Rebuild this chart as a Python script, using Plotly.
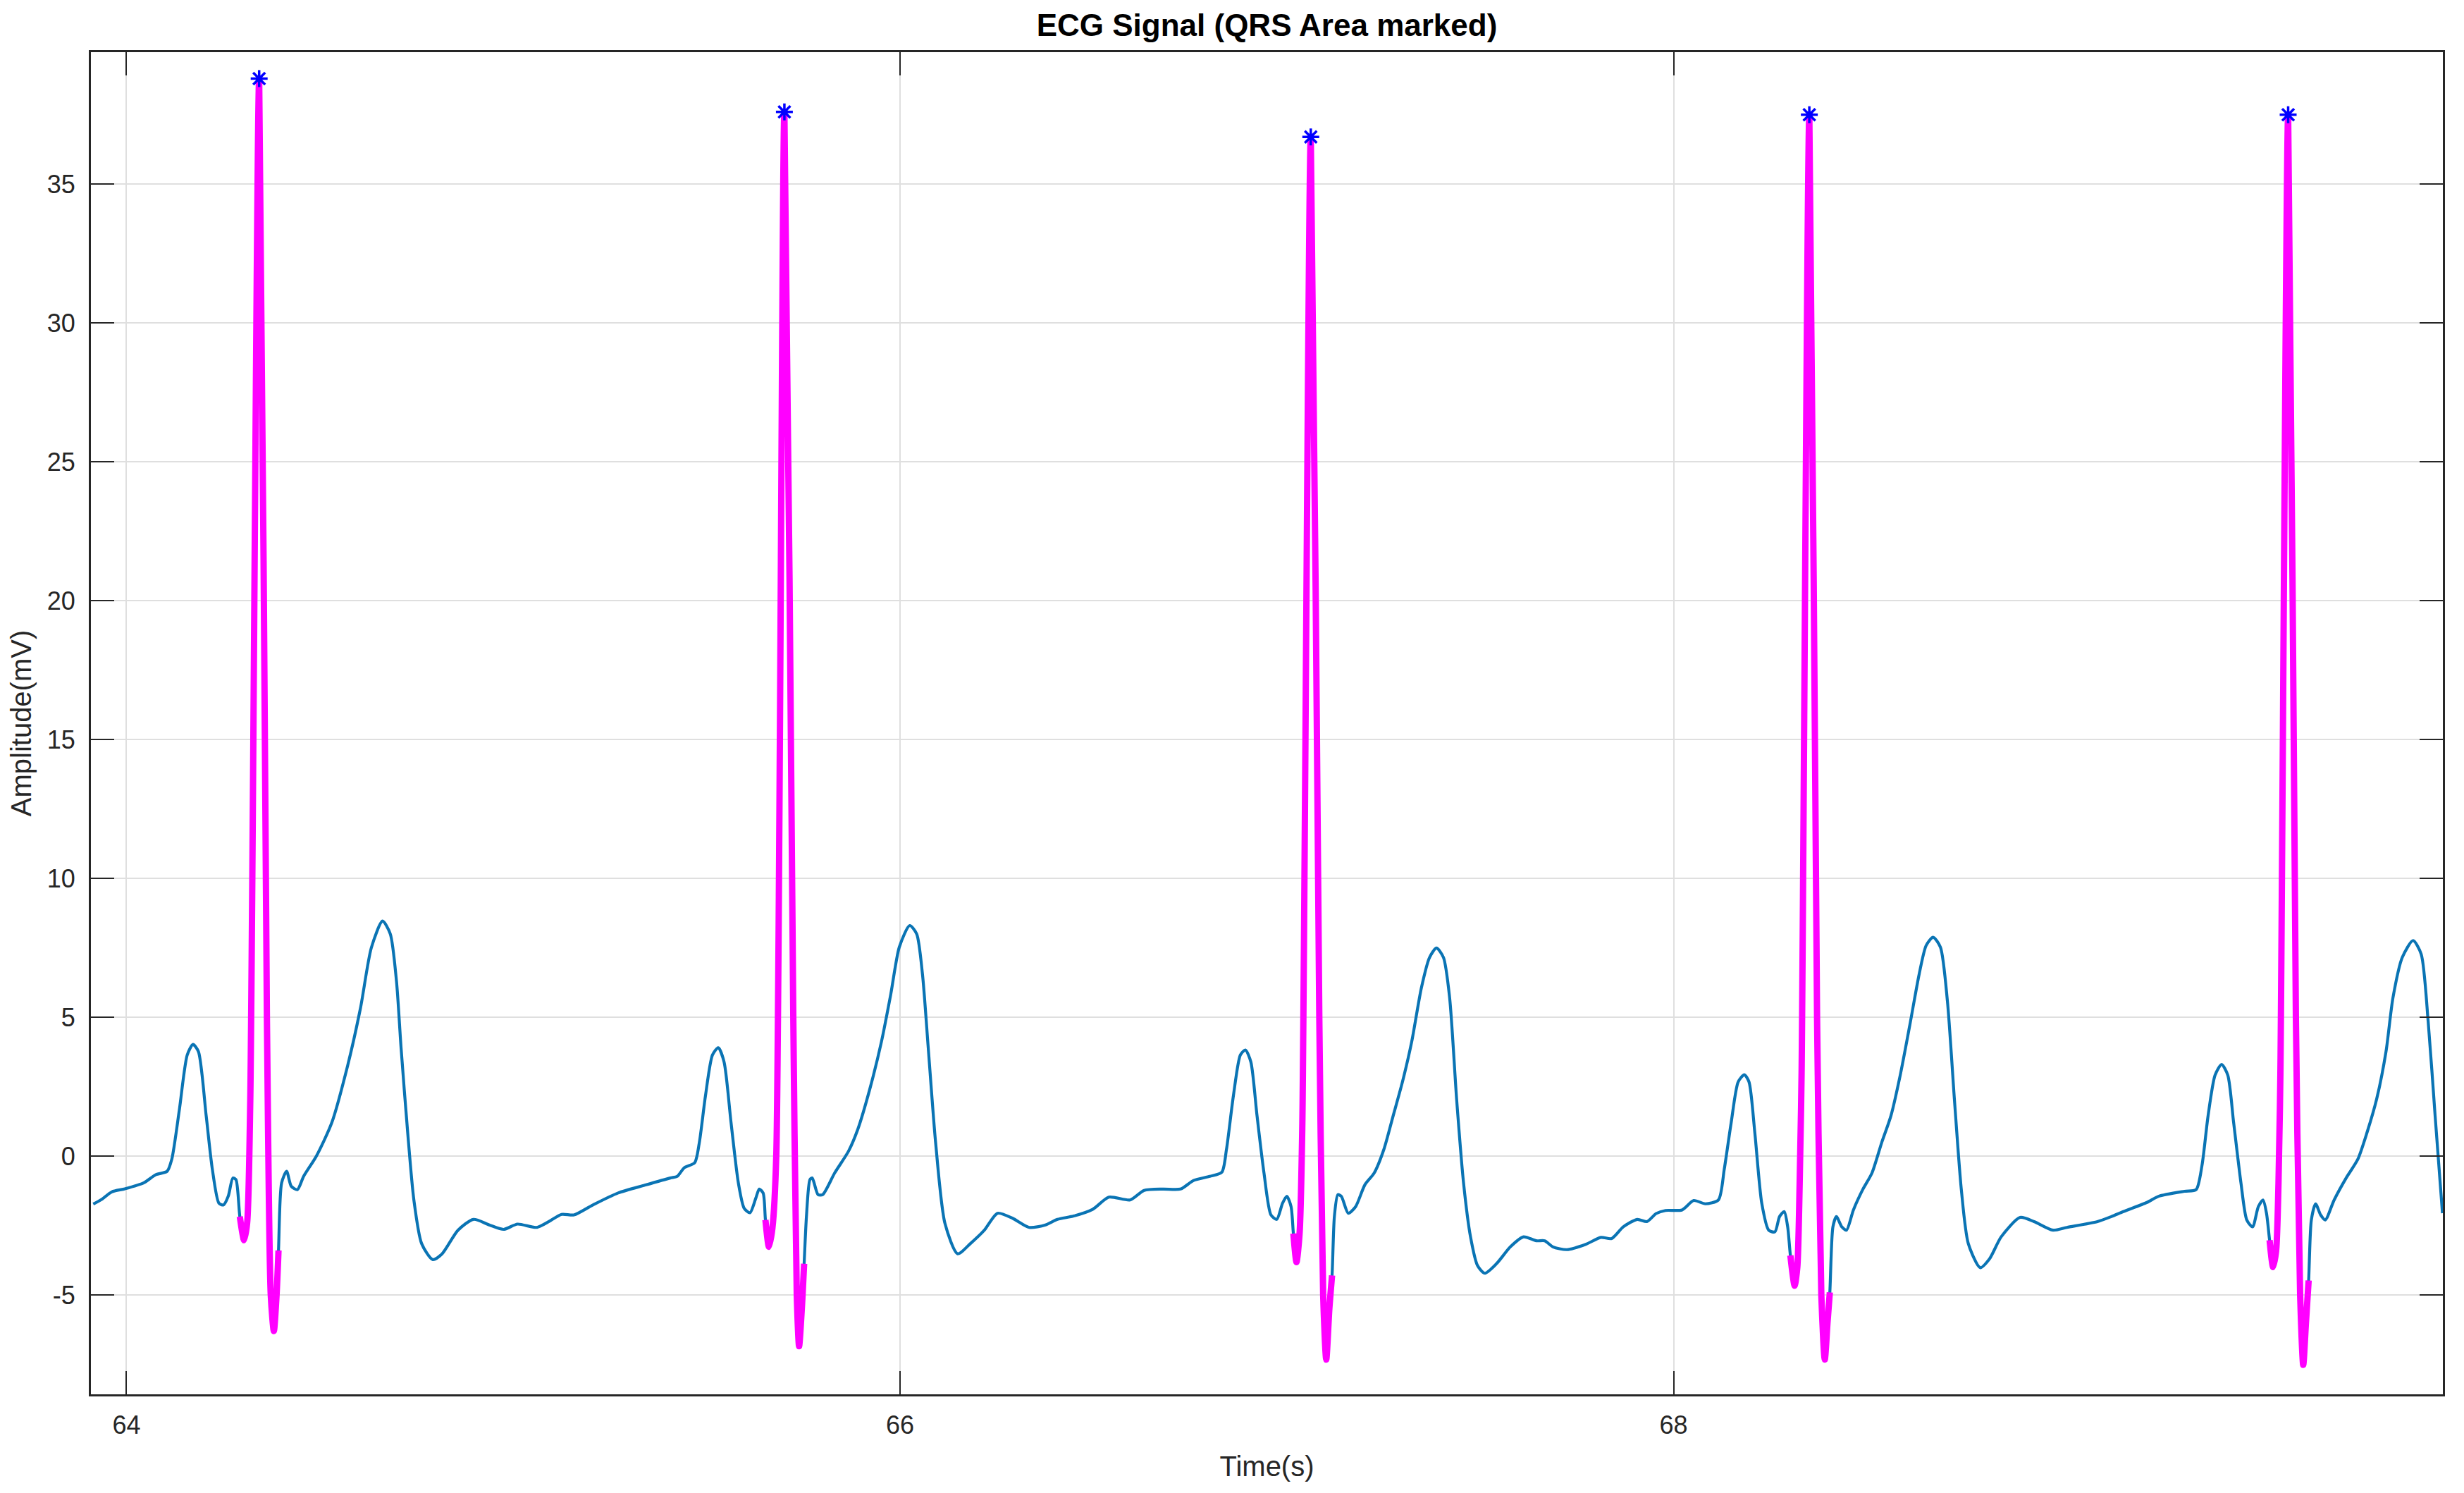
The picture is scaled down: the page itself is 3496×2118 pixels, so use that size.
import plotly.graph_objects as go

# ---- ECG samples (time in s, amplitude in mV) ----
time_s = [
    63.914, 63.935, 63.962, 63.996, 64.044, 64.076, 64.105, 64.117, 64.137, 64.157,
    64.172, 64.186, 64.206, 64.222, 64.239, 64.251, 64.263, 64.275, 64.283, 64.293,
    64.304, 64.312, 64.320, 64.343, 64.363, 64.373, 64.381, 64.388, 64.393, 64.401,
    64.414, 64.426, 64.442, 64.458, 64.491, 64.531, 64.572, 64.605, 64.633, 64.662,
    64.682, 64.698, 64.710, 64.727, 64.743, 64.763, 64.792, 64.816, 64.857, 64.897,
    64.938, 64.975, 65.011, 65.060, 65.092, 65.125, 65.157, 65.206, 65.271, 65.340,
    65.406, 65.424, 65.442, 65.469, 65.481, 65.497, 65.515, 65.530, 65.545, 65.563,
    65.582, 65.597, 65.612, 65.627, 65.636, 65.646, 65.652, 65.661, 65.670, 65.680,
    65.701, 65.724, 65.733, 65.739, 65.746, 65.752, 65.758, 65.767, 65.773, 65.788,
    65.800, 65.831, 65.867, 65.891, 65.922, 65.952, 65.976, 65.998, 66.025, 66.043,
    66.058, 66.073, 66.092, 66.116, 66.149, 66.182, 66.218, 66.252, 66.291, 66.334,
    66.376, 66.407, 66.449, 66.498, 66.540, 66.595, 66.631, 66.680, 66.725, 66.759,
    66.801, 66.832, 66.844, 66.862, 66.880, 66.893, 66.907, 66.923, 66.941, 66.959,
    66.974, 66.989, 67.000, 67.011, 67.017, 67.025, 67.033, 67.040, 67.062, 67.084,
    67.094, 67.102, 67.110, 67.117, 67.123, 67.132, 67.141, 67.159, 67.178, 67.202,
    67.226, 67.251, 67.275, 67.299, 67.323, 67.348, 67.369, 67.387, 67.405, 67.421,
    67.439, 67.457, 67.475, 67.493, 67.512, 67.542, 67.578, 67.612, 67.645, 67.667,
    67.688, 67.724, 67.773, 67.812, 67.840, 67.870, 67.906, 67.931, 67.955, 67.979,
    68.022, 68.052, 68.082, 68.116, 68.131, 68.149, 68.167, 68.183, 68.195, 68.210,
    68.228, 68.246, 68.262, 68.274, 68.286, 68.295, 68.302, 68.313, 68.320, 68.326,
    68.331, 68.351, 68.371, 68.382, 68.391, 68.398, 68.404, 68.412, 68.421, 68.435,
    68.447, 68.465, 68.489, 68.513, 68.538, 68.562, 68.586, 68.611, 68.635, 68.653,
    68.671, 68.690, 68.708, 68.726, 68.744, 68.762, 68.793, 68.817, 68.847, 68.896,
    68.932, 68.981, 69.017, 69.096, 69.132, 69.163, 69.224, 69.254, 69.321, 69.351,
    69.366, 69.382, 69.400, 69.417, 69.433, 69.448, 69.467, 69.482, 69.497, 69.512,
    69.524, 69.533, 69.541, 69.550, 69.558, 69.564, 69.569, 69.589, 69.609, 69.620,
    69.628, 69.635, 69.642, 69.649, 69.660, 69.673, 69.685, 69.708, 69.739, 69.769,
    69.793, 69.818, 69.842, 69.860, 69.884, 69.912, 69.933, 69.951, 69.969, 69.988,
]
amplitude_mv = [
    -1.73, -1.57, -1.29, -1.18, -0.97, -0.67, -0.55, -0.12, 1.70, 3.64,
    4.02, 3.76, 1.45, -0.48, -1.70, -1.76, -1.45, -0.79, -0.85, -2.18,
    -3.03, -2.40, 2.00, 38.80, 5.00, -5.00, -6.30, -5.00, -3.40, -0.97,
    -0.55, -1.09, -1.21, -0.73, 0.00, 1.21, 3.27, 5.33, 7.50, 8.46,
    8.00, 6.30, 3.88, 0.85, -1.58, -3.15, -3.73, -3.52, -2.67, -2.28,
    -2.48, -2.64, -2.45, -2.57, -2.36, -2.10, -2.12, -1.76, -1.33, -1.05,
    -0.79, -0.73, -0.42, -0.24, 0.48, 2.18, 3.64, 3.90, 3.39, 1.21,
    -0.97, -1.88, -2.04, -1.52, -1.19, -1.33, -2.30, -3.27, -2.60, 0.00,
    37.60, 5.00, -5.00, -6.85, -5.50, -3.88, -2.18, -0.85, -0.79, -1.39,
    -1.39, -0.61, 0.18, 0.97, 2.42, 4.12, 5.82, 7.52, 8.30, 8.00,
    6.55, 3.88, 0.48, -2.42, -3.52, -3.15, -2.67, -2.06, -2.24, -2.57,
    -2.48, -2.28, -2.16, -1.92, -1.48, -1.58, -1.24, -1.19, -1.19, -0.88,
    -0.73, -0.58, 0.24, 2.18, 3.64, 3.82, 3.39, 1.45, -0.61, -2.12,
    -2.28, -1.70, -1.45, -1.82, -2.79, -3.82, -2.80, 1.00, 36.70, 5.00,
    -5.00, -7.33, -5.50, -4.30, -2.18, -1.39, -1.45, -2.06, -1.82, -1.03,
    -0.61, 0.24, 1.45, 2.67, 4.12, 6.06, 7.15, 7.49, 7.15, 5.70,
    2.06, -0.97, -2.91, -3.94, -4.22, -3.88, -3.27, -2.91, -3.05, -3.05,
    -3.27, -3.37, -3.18, -2.93, -2.97, -2.55, -2.28, -2.36, -2.07, -1.96,
    -1.94, -1.60, -1.72, -1.58, -0.48, 1.21, 2.67, 2.93, 2.67, 0.85,
    -1.70, -2.67, -2.73, -2.18, -2.00, -2.55, -3.58, -4.67, -4.00, -1.00,
    3.00, 37.50, 5.00, -5.00, -7.33, -6.00, -4.91, -2.55, -2.18, -2.55,
    -2.67, -1.94, -1.21, -0.61, 0.48, 1.45, 2.91, 4.73, 6.55, 7.58,
    7.88, 7.52, 5.58, 2.06, -1.21, -3.15, -4.02, -3.70, -2.91, -2.21,
    -2.36, -2.67, -2.57, -2.36, -2.18, -2.00, -1.67, -1.45, -1.27, -1.21,
    -0.36, 1.45, 2.91, 3.30, 2.91, 1.21, -0.97, -2.30, -2.55, -1.82,
    -1.58, -2.06, -3.03, -4.00, -3.40, -1.00, 3.00, 37.50, 5.00, -5.00,
    -7.52, -6.00, -4.48, -2.30, -1.72, -2.12, -2.30, -1.58, -0.79, -0.12,
    0.85, 2.06, 3.76, 5.70, 7.15, 7.76, 7.27, 4.85, 1.45, -2.06,
]

# QRS windows (start, end) in seconds, marked in magenta
qrs_start = [64.293, 65.652, 67.017, 68.302, 69.541]
qrs_end = [64.393, 65.752, 67.117, 68.404, 69.642]

x_ticks = [64, 66, 68]
y_ticks = [-5, 0, 5, 10, 15, 20, 25, 30, 35]

# ---- build QRS overlay and R-peak markers from the samples ----
qrs_x, qrs_y, peak_x, peak_y = [], [], [], []
for s, e in zip(qrs_start, qrs_end):
    seg = [(t, a) for t, a in zip(time_s, amplitude_mv) if s - 1e-9 <= t <= e + 1e-9]
    qrs_x += [p[0] for p in seg] + [None]
    qrs_y += [p[1] for p in seg] + [None]
    pk = max(seg, key=lambda p: p[1])
    peak_x.append(pk[0])
    peak_y.append(pk[1])

fig = go.Figure()
fig.add_trace(go.Scatter(
    x=time_s, y=amplitude_mv, mode="lines",
    line=dict(color="#0A74B4", width=4.2, shape="spline", smoothing=0.7),
    name="ECG", hoverinfo="x+y",
))
fig.add_trace(go.Scatter(
    x=qrs_x, y=qrs_y, mode="lines",
    line=dict(color="#FF00FF", width=9, shape="spline", smoothing=0.7),
    name="QRS", connectgaps=False,
))
fig.add_trace(go.Scatter(
    x=peak_x, y=peak_y, mode="markers",
    marker=dict(symbol="asterisk-open", size=20, color="#0000FF",
                line=dict(color="#0000FF", width=3.5)),
    name="R peaks",
))

font_family = "Liberation Sans, Arial, Helvetica, sans-serif"
axis_common = dict(
    showline=True, linecolor="#262626", linewidth=3, mirror="ticks",
    ticks="inside", ticklen=33, tickwidth=2, tickcolor="#262626",
    showgrid=True, gridcolor="#DFDFDF", gridwidth=2,
    zeroline=False,
    tickfont=dict(family=font_family, size=36, color="#262626"),
)

# The page body adds an 8 px margin, so the figure is 16 px smaller than the
# window and the margins are shifted accordingly.
fig.update_layout(
    width=3480, height=2102,
    margin=dict(l=121, r=22, t=66, b=132),
    paper_bgcolor="white", plot_bgcolor="white",
    showlegend=False,
    title=dict(
        text="<b>ECG Signal (QRS Area marked)</b>",
        x=0.5, xref="paper", xanchor="center",
        y=1 - 28 / 2102, yref="container", yanchor="middle",
        font=dict(family=font_family, size=44, color="#000000"),
    ),
    xaxis=dict(
        range=[63.908, 69.989], tickvals=x_ticks, ticktext=[str(v) for v in x_ticks],
        title=dict(text="Time(s)", standoff=25,
                   font=dict(family=font_family, size=40, color="#262626")),
        ticklabelstandoff=10,
        **axis_common,
    ),
    yaxis=dict(
        range=[-8.58, 39.75], tickvals=y_ticks, ticktext=[str(v) for v in y_ticks],
        title=dict(text="Amplitude(mV)", standoff=14,
                   font=dict(family=font_family, size=40, color="#262626")),
        ticklabelstandoff=12,
        **axis_common,
    ),
)

fig.write_html("out.html")
